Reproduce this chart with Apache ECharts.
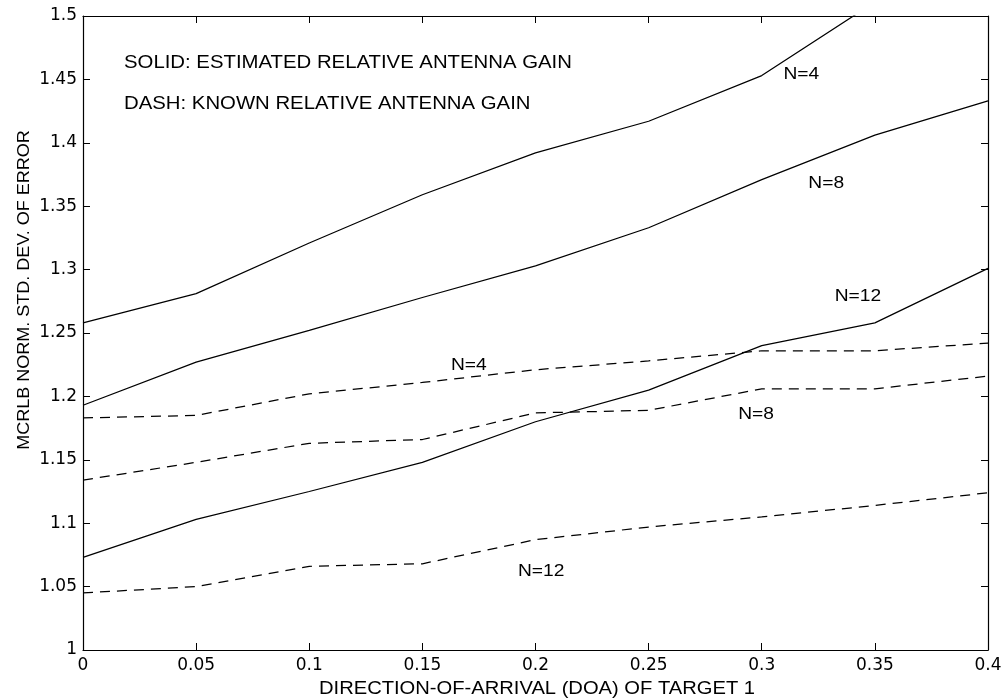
<!DOCTYPE html>
<html>
<head>
<meta charset="utf-8">
<script src="https://cdn.jsdelivr.net/npm/echarts@6/dist/echarts.min.js"></script>
<style>
html,body{margin:0;padding:0;background:#fff;}
#c{width:1006px;height:700px;}
</style>
</head>
<body>
<div id="c"></div>
<script>
const doa = [0, 0.05, 0.1, 0.15, 0.2, 0.25, 0.3, 0.35, 0.4];
const solidN4 = [1.258, 1.281, 1.321, 1.359, 1.392, 1.417, 1.453, 1.511, 1.565];
const solidN8 = [1.193, 1.227, 1.252, 1.278, 1.303, 1.333, 1.371, 1.406, 1.433];
const solidN12 = [1.073, 1.103, 1.125, 1.148, 1.180, 1.205, 1.240, 1.258, 1.301];
const dashN4 = [1.183, 1.185, 1.202, 1.211, 1.221, 1.228, 1.236, 1.236, 1.242];
const dashN8 = [1.134, 1.148, 1.163, 1.166, 1.187, 1.189, 1.206, 1.206, 1.216];
const dashN12 = [1.045, 1.050, 1.066, 1.068, 1.087, 1.097, 1.105, 1.114, 1.124];
const xTicks = [0, 0.05, 0.1, 0.15, 0.2, 0.25, 0.3, 0.35, 0.4];
const yTicks = [1, 1.05, 1.1, 1.15, 1.2, 1.25, 1.3, 1.35, 1.4, 1.45, 1.5];
const annotations = [
  {x: 0.3175, y: 1.4535, text: 'N=4'},
  {x: 0.3285, y: 1.368, text: 'N=8'},
  {x: 0.3425, y: 1.279, text: 'N=12'},
  {x: 0.1705, y: 1.224, text: 'N=4'},
  {x: 0.2975, y: 1.186, text: 'N=8'},
  {x: 0.2025, y: 1.0615, text: 'N=12'}
];
const headerLines = ['SOLID: ESTIMATED RELATIVE ANTENNA GAIN', 'DASH: KNOWN RELATIVE ANTENNA GAIN'];
const xTitle = 'DIRECTION-OF-ARRIVAL (DOA) OF TARGET 1';
const yTitle = 'MCRLB NORM. STD. DEV. OF ERROR';

const FONT = '"Liberation Sans", Arial, Helvetica, sans-serif';
const TICKFONT = '"DejaVu Sans", sans-serif';
const chart = echarts.init(document.getElementById('c'), null, {renderer: 'canvas'});

function mk(vals, dashed) {
  return {
    type: 'line',
    data: doa.map((x, i) => [x, vals[i]]),
    symbol: 'none',
    clip: true,
    silent: true,
    lineStyle: {color: '#000', width: 1.25, type: dashed ? [10, 7] : 'solid'},
    animation: false
  };
}
const axisCommon = {
  type: 'value',
  axisLine: {show: true, onZero: false, lineStyle: {color: '#000', width: 1.2}},
  axisTick: {show: true, inside: true, length: 7, lineStyle: {color: '#000'}},
  splitLine: {show: false}
};
const fmt = v => String(+v.toFixed(2));
chart.setOption({
  animation: false,
  backgroundColor: '#fff',
  grid: {left: 83, right: 18, top: 16, bottom: 50},
  xAxis: [
    Object.assign({}, axisCommon, {
      min: xTicks[0], max: xTicks[xTicks.length - 1], interval: 0.05,
      axisLabel: {color: '#000', fontSize: 17, fontFamily: TICKFONT, margin: 7, formatter: fmt}
    }),
    Object.assign({}, axisCommon, {
      position: 'top', min: xTicks[0], max: xTicks[xTicks.length - 1], interval: 0.05, axisLabel: {show: false}
    })
  ],
  yAxis: [
    Object.assign({}, axisCommon, {
      min: yTicks[0], max: yTicks[yTicks.length - 1], interval: 0.05,
      axisLabel: {color: '#000', fontSize: 17, fontFamily: TICKFONT, margin: 6, formatter: fmt}
    }),
    Object.assign({}, axisCommon, {
      position: 'right', min: yTicks[0], max: yTicks[yTicks.length - 1], interval: 0.05, axisLabel: {show: false}
    })
  ],
  series: [
    mk(solidN4, false), mk(solidN8, false), mk(solidN12, false),
    mk(dashN4, true), mk(dashN8, true), mk(dashN12, true)
  ]
});

const gfx = [];
headerLines.forEach((t, i) => gfx.push({
  type: 'text', x: 124, y: 63 + i * 41, scaleX: 1.13, silent: true,
  style: {text: t, fill: '#000', font: '18px ' + FONT, align: 'left', verticalAlign: 'middle'}
}));
annotations.forEach(a => {
  const p = chart.convertToPixel({gridIndex: 0}, [a.x, a.y]);
  gfx.push({
    type: 'text', x: p[0], y: p[1], scaleX: 1.2, silent: true,
    style: {text: a.text, fill: '#000', font: '16px ' + FONT, align: 'center', verticalAlign: 'middle'}
  });
});
gfx.push({
  type: 'text', x: 537, y: 689, scaleX: 1.12, silent: true,
  style: {text: xTitle, fill: '#000', font: '18px ' + FONT, align: 'center', verticalAlign: 'middle'}
});
gfx.push({
  type: 'text', x: 24, y: 290, rotation: Math.PI / 2, scaleX: 1.06, silent: true,
  style: {text: yTitle, fill: '#000', font: '17px ' + FONT, align: 'center', verticalAlign: 'middle'}
});
chart.setOption({graphic: gfx});
</script>
</body>
</html>
